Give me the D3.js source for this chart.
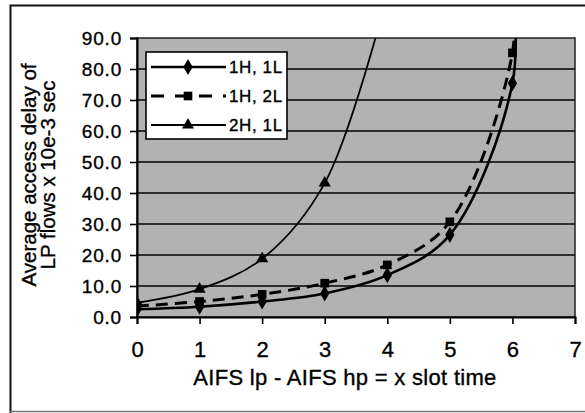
<!DOCTYPE html>
<html>
<head>
<meta charset="utf-8">
<script src="https://cdn.jsdelivr.net/npm/d3@7"></script>
<style>
  html, body { margin: 0; padding: 0; background: #ffffff; }
  svg { display: block; font-family: "Liberation Sans", Arial, sans-serif; }
  text { stroke: #000; stroke-width: 0.35px; }
</style>
</head>
<body>
<svg id="chart" width="585" height="413"></svg>
<script>
// Slot offset (AIFS lp - AIFS hp) on the x axis
const slots1H1L = [0, 1, 2, 3, 4, 5, 6, 6];
const delay1H1L = [2.5, 3.3, 5.0, 7.6, 13.5, 26.5, 75.4, 110];

const slots1H2L = [0, 1, 2, 3, 4, 5, 6, 6];
const delay1H2L = [3.5, 5.0, 7.3, 10.9, 16.8, 30.7, 85.2, 110];

const slots2H1L = [0, 1, 2, 3, 4];
const delay2H1L = [4.6, 9.0, 18.8, 43.2, 104];

const seriesNames = ["1H, 1L", "1H, 2L", "2H, 1L"];
const xTicks = [0, 1, 2, 3, 4, 5, 6, 7];
const yTicks = [0, 10, 20, 30, 40, 50, 60, 70, 80, 90];

const series = [
  { name: seriesNames[0], xs: slots1H1L, ys: delay1H1L, marker: "diamond", width: 2.6, dash: null },
  { name: seriesNames[1], xs: slots1H2L, ys: delay1H2L, marker: "square", width: 3, dash: "12,7" },
  { name: seriesNames[2], xs: slots2H1L, ys: delay2H1L, marker: "triangle", width: 1.8, dash: null }
];

const svg = d3.select("#chart");
const plotL = 137, plotR = 575, plotT = 38, plotB = 317;

const x = d3.scaleLinear().domain([0, 7]).range([plotL, plotR]);
const y = d3.scaleLinear().domain([0, 90]).range([plotB, plotT]);

// outer frame of the figure
svg.append("path")
  .attr("d", `M10.5,413 L10.5,5.5 L585,5.5`)
  .attr("fill", "none").attr("stroke", "#111").attr("stroke-width", 2);
svg.append("line")
  .attr("x1", 10).attr("x2", 585).attr("y1", 411.5).attr("y2", 411.5)
  .attr("stroke", "#777").attr("stroke-width", 1.5);

// plot area
svg.append("rect")
  .attr("x", plotL).attr("y", plotT)
  .attr("width", plotR - plotL).attr("height", plotB - plotT)
  .attr("fill", "#b2b2b2");

svg.append("defs").append("clipPath").attr("id", "plotClip")
  .append("rect").attr("x", plotL).attr("y", plotT)
  .attr("width", plotR - plotL).attr("height", plotB - plotT);

// horizontal gridlines
svg.append("g").selectAll("line")
  .data(yTicks.filter(v => v > 0 && v < 90))
  .join("line")
  .attr("x1", plotL).attr("x2", plotR)
  .attr("y1", d => y(d)).attr("y2", d => y(d))
  .attr("stroke", "#000").attr("stroke-width", 1.6);

// plot border
svg.append("rect")
  .attr("x", plotL).attr("y", plotT)
  .attr("width", plotR - plotL).attr("height", plotB - plotT)
  .attr("fill", "none").attr("stroke", "#222").attr("stroke-width", 1.5);

// axes
const yAxis = d3.axisLeft(y).tickValues(yTicks).tickSize(7).tickPadding(8)
  .tickFormat(d3.format(".1f"));
const gy = svg.append("g").attr("transform", `translate(${plotL},0)`).call(yAxis);
gy.select(".domain").attr("stroke", "#000").attr("stroke-width", 2);
gy.selectAll(".tick line").attr("stroke", "#000").attr("stroke-width", 1.6);
gy.selectAll(".tick text")
  .attr("font-size", 19).attr("fill", "#000")
  .attr("font-family", "Liberation Sans, Arial, sans-serif")
  .style("letter-spacing", "0.8px");

const xAxis = d3.axisBottom(x).tickValues(xTicks).tickSize(7).tickPadding(17)
  .tickFormat(d3.format("d"));
const gx = svg.append("g").attr("transform", `translate(0,${plotB})`).call(xAxis);
gx.select(".domain").attr("stroke", "#000").attr("stroke-width", 2);
gx.selectAll(".tick line").attr("stroke", "#000").attr("stroke-width", 1.6);
gx.selectAll(".tick text")
  .attr("font-size", 22).attr("fill", "#000")
  .attr("font-family", "Liberation Sans, Arial, sans-serif");

// axis titles
svg.append("text")
  .attr("x", 345).attr("y", 385)
  .attr("text-anchor", "middle").attr("font-size", 22).attr("fill", "#000")
  .style("letter-spacing", "0.3px")
  .text("AIFS lp - AIFS hp = x slot time");

const yTitle = svg.append("text")
  .attr("transform", "translate(36,175) rotate(-90)")
  .attr("text-anchor", "middle").attr("font-size", 20.5).attr("fill", "#000");
yTitle.append("tspan").attr("x", 0).attr("dy", 0).text("Average access delay of");
yTitle.append("tspan").attr("x", 0).attr("dy", 19).text("LP flows x 10e-3 sec");

// markers
const symbolTypes = {
  diamond: d3.symbol().type(d3.symbolDiamond).size(75),
  square: d3.symbol().type(d3.symbolSquare).size(75),
  triangle: d3.symbol().type(d3.symbolTriangle).size(65)
};

const line = d3.line()
  .x(d => x(d[0])).y(d => y(d[1]))
  .curve(d3.curveCatmullRom.alpha(0.5));

const plot = svg.append("g").attr("clip-path", "url(#plotClip)");

series.forEach(s => {
  const pts = s.xs.map((v, i) => [v, s.ys[i]]);
  plot.append("path")
    .datum(pts)
    .attr("d", line)
    .attr("fill", "none")
    .attr("stroke", "#000")
    .attr("stroke-width", s.width)
    .attr("stroke-dasharray", s.dash);
  plot.append("g").selectAll("path")
    .data(pts)
    .join("path")
    .attr("transform", d => `translate(${x(d[0])},${y(d[1])})`)
    .attr("d", symbolTypes[s.marker])
    .attr("fill", "#000");
});

// legend
const legend = svg.append("g");
legend.append("rect")
  .attr("x", 146).attr("y", 52).attr("width", 141).attr("height", 87)
  .attr("fill", "#fff").attr("stroke", "#000").attr("stroke-width", 1.6);

const rowY = d3.scalePoint().domain(seriesNames).range([67, 125]);
series.forEach(s => {
  const ry = rowY(s.name);
  legend.append("line")
    .attr("x1", 151).attr("x2", 226).attr("y1", ry).attr("y2", ry)
    .attr("stroke", "#000").attr("stroke-width", s.width)
    .attr("stroke-dasharray", s.dash ? "13,11" : null);
  legend.append("path")
    .attr("transform", `translate(188,${ry})`)
    .attr("d", symbolTypes[s.marker])
    .attr("fill", "#000");
  legend.append("text")
    .attr("x", 229).attr("y", ry + 6)
    .attr("font-size", 17).attr("fill", "#000")
    .style("letter-spacing", "0.6px")
    .text(s.name);
});
</script>
</body>
</html>
